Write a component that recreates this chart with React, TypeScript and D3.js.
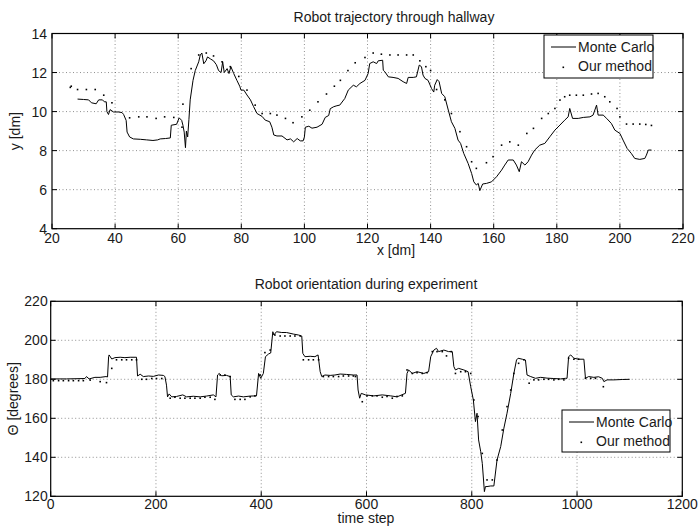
import React from "react";
import * as d3 from "d3";

// top panel: trajectory, [x dm, y dm]
const trajMonteCarlo: [number, number][] = [
  [28.1, 10.64], [30, 10.62], [31.6, 10.6], [32.5, 10.45], [34, 10.4], [34.8, 10.6], [36, 10.6], [36.6, 10.5],
  [37.2, 10.5], [37.4, 10.0], [37.9, 9.85], [38.4, 10.1], [39.5, 9.98], [41, 9.98], [42.2, 9.95], [42.7, 9.85],
  [43.5, 9.55], [43.8, 8.95], [44.6, 8.7], [45.8, 8.6], [48, 8.58], [50, 8.55], [52, 8.52], [53.5, 8.55],
  [54.3, 8.6], [56, 8.62], [57.5, 8.65], [57.8, 9.3], [59.5, 9.35], [60.3, 9.68], [61.1, 9.55], [61.5, 9.3],
  [61.9, 8.95], [62.3, 8.15], [62.6, 9.0], [63, 8.7], [63.4, 9.6], [63.8, 10.6], [64.7, 11.6], [65.4, 12.1],
  [66.5, 12.55], [67, 12.9], [67.5, 13.0], [68.1, 12.45], [68.8, 12.6], [69.3, 12.8], [70.2, 12.7], [71.2, 12.6],
  [72.1, 12.4], [72.8, 12.1], [73.6, 12.0], [74.1, 12.55], [74.6, 12.0], [75.5, 12.2], [76.1, 11.95], [76.7, 12.3],
  [77.6, 11.95], [78.6, 11.6], [79.5, 11.3], [79.9, 11.1], [80.8, 11.1], [81.8, 10.85], [82.9, 10.6], [83.9, 10.25],
  [85, 9.9], [86.6, 9.75], [87.6, 9.56], [89, 9.48], [89.7, 9.2], [90.3, 8.8], [91.3, 8.75], [92.9, 8.75],
  [94.5, 8.55], [95.6, 8.6], [96.6, 8.45], [97.7, 8.62], [98.7, 8.5], [99.6, 8.5], [100, 8.7], [100.3, 9.2],
  [101.4, 9.25], [102.4, 9.15], [104, 9.2], [105.6, 9.35], [106.6, 9.7], [107.7, 9.8], [108.2, 10.15], [109.3, 10.25],
  [110.3, 10.3], [111.2, 10.33], [112.8, 10.67], [113.9, 11.1], [115.5, 11.35], [116.5, 11.27], [117.6, 11.44], [119.2, 11.6],
  [120.2, 11.95], [120.7, 12.46], [121.8, 12.55], [122.9, 12.46], [123.4, 12.6], [124.8, 12.63], [125, 12.12], [125.5, 12.04],
  [126.6, 11.78], [128.1, 11.75], [129.7, 11.7], [131.3, 11.53], [132.4, 11.44], [132.9, 11.75], [134.5, 11.75], [135.5, 11.78],
  [136.4, 12.38], [137.1, 12.3], [137.6, 11.87], [138.2, 11.7], [139.2, 11.6], [140.3, 11.18], [141, 11.0], [141.3, 11.35],
  [142.1, 11.64], [142.7, 11.53], [143.5, 10.93], [144.5, 10.76], [145.6, 10.08], [146.6, 9.48], [147.7, 9.14], [148.7, 8.54],
  [149.5, 8.37], [150.5, 7.86], [151.9, 7.34], [153, 6.83], [153.7, 6.4], [154.5, 6.24], [155.1, 6.32], [155.6, 5.95],
  [156.5, 6.29], [157.7, 6.32], [159.3, 6.4], [160.9, 6.66], [162.5, 7.0], [163.5, 7.26], [164.6, 7.52], [166.2, 7.52],
  [167.2, 7.26], [168.1, 6.92], [168.8, 7.43], [169.9, 7.26], [170.9, 7.43], [172, 7.77], [173, 8.03], [174.6, 8.28],
  [176.2, 8.37], [177.8, 8.71], [179.4, 9.05], [181, 9.31], [182.5, 9.56], [183.6, 9.73], [184.1, 10.16], [185, 9.65],
  [186.8, 9.65], [188.4, 9.7], [190.5, 9.73], [191.5, 9.82], [192.6, 10.33], [193.1, 9.82], [194.7, 9.82], [195.8, 9.65],
  [197.3, 9.39], [198.4, 9.05], [200, 8.88], [201, 8.54], [202.3, 8.11], [203.6, 7.86], [204.7, 7.6], [206.3, 7.55],
  [207.9, 7.6], [208.4, 7.77], [209, 8.03], [210, 8.03],
];

const trajOurs: [number, number][] = [
  [25.8, 11.24], [26.1, 11.3], [28.1, 11.13], [30.9, 11.13], [33.7, 11.13], [36.4, 10.84], [39, 10.45], [44.6, 9.68],
  [47.5, 9.73], [50.1, 9.73], [53, 9.65], [55.7, 9.73], [58.6, 9.7], [61.2, 9.2], [61.5, 10.38], [64.1, 12.2],
  [66.5, 12.9], [68.9, 13.0], [71.2, 12.85], [73.9, 12.55], [76.5, 12.3], [79.2, 11.8], [81.8, 11.1], [84.4, 10.33],
  [86.6, 9.9], [89.2, 9.9], [91.3, 9.82], [94, 9.65], [96.4, 9.43], [99.2, 9.73], [101.7, 10.07], [104.3, 10.5],
  [107, 10.9], [109.5, 11.3], [111.4, 11.6], [113.8, 12.1], [116.1, 12.5], [119.2, 12.77], [121.8, 13.0], [124.4, 12.94],
  [127.1, 12.9], [129.7, 12.9], [132.4, 12.9], [134.5, 12.9], [136.6, 12.6], [138.5, 12.3], [140, 12.1], [141.9, 11.13],
  [144.5, 10.6], [146.6, 9.9], [149.3, 8.97], [151.4, 8.2], [153, 7.43], [154.5, 7.09], [157.7, 7.38], [159.8, 7.69],
  [162.5, 8.28], [165.1, 8.45], [167.8, 8.28], [170.5, 8.88], [172.6, 9.14], [175.2, 9.65], [177.3, 9.9], [179.4, 10.16],
  [181, 10.59], [182.5, 10.76], [184.1, 10.84], [186.2, 10.84], [188.4, 10.84], [191, 10.9], [193.1, 10.93], [195.2, 10.76],
  [196.8, 10.5], [199.1, 10.16], [200, 9.73], [202.1, 9.36], [204.2, 9.36], [206.3, 9.36], [208.2, 9.34], [210, 9.29],
];

// bottom panel: orientation, [time step, degrees]
const thetaMonteCarlo: [number, number][] = [
  [0, 180.2], [30, 180.2], [65, 180.4], [68, 181.4], [73, 180.2], [84, 181], [94, 181], [105, 181.4],
  [108, 181.2], [110, 191.6], [111, 192.5], [116, 190.4], [122, 191.1], [132, 191.3], [141, 191.1], [151, 191.3],
  [163, 191.3], [165, 181.7], [170, 182.6], [176, 181.4], [186, 181.7], [195, 181.5], [205, 182.2], [214, 182],
  [217, 181.4], [220, 177], [222, 171], [225, 172.5], [230, 171], [239, 171.2], [251, 172], [258, 171],
  [271, 171.3], [284, 171], [296, 171.4], [309, 172], [314, 171], [317, 182.2], [320, 183], [325, 181.8],
  [334, 182], [341, 181.4], [343, 172], [347, 171], [357, 171.4], [366, 171], [379, 171.4], [391, 171.5],
  [395, 183], [399, 180.5], [404, 183], [408, 191.6], [414, 193], [418, 193.5], [422, 204.4], [424, 202.7],
  [429, 204.4], [439, 204], [448, 204], [461, 203.2], [471, 202.7], [477, 202.2], [479, 193.3], [483, 191.6],
  [493, 191.8], [502, 191.6], [508, 192.5], [512, 183.9], [515, 181.4], [521, 182.2], [531, 182], [540, 182.2],
  [550, 182.7], [562, 182.5], [575, 182.2], [582, 182.2], [584, 174.5], [587, 170.3], [590, 172.8], [598, 172],
  [614, 171.5], [630, 172], [646, 171.5], [658, 171], [674, 172.8], [677, 183], [680, 184.8], [687, 183],
  [696, 183.9], [709, 183], [718, 183.9], [722, 191.6], [728, 195], [733, 195.9], [737, 194.2], [747, 195],
  [756, 194.2], [763, 194.2], [766, 186.5], [769, 184.8], [775, 185.6], [785, 184.8], [793, 183.9], [798, 176.2],
  [803, 169.4], [807, 158.3], [810, 162.6], [813, 148.9], [817, 142.9], [820, 136.9], [824, 122.4], [826, 125],
  [829, 125], [836, 125.3], [842, 125.3], [848, 138.6], [855, 145.5], [861, 154.9], [867, 162.6], [874, 172.8],
  [880, 183], [885, 189.9], [888, 190.8], [896, 190.3], [902, 189.9], [905, 182.2], [912, 181.4], [921, 180.5],
  [931, 181], [943, 180.6], [956, 180.4], [969, 180.2], [978, 180.5], [981, 180.5], [984, 191.6], [988, 192.5],
  [994, 190.8], [1003, 190.3], [1013, 190.3], [1016, 180.5], [1022, 181.4], [1032, 181], [1041, 181.3], [1048, 180.5],
  [1051, 178.8], [1057, 179.7], [1070, 179.7], [1086, 179.9], [1100, 180],
];

const thetaOurs: [number, number][] = [
  [5, 179.3], [15, 179.3], [24, 179.3], [34, 179.3], [43, 179.3], [53, 179.3], [62, 179.3], [75, 179.6],
  [94, 178.8], [106, 178.3], [116, 185.6], [125, 190], [135, 190], [144, 190], [154, 190], [163, 190],
  [173, 180], [182, 180], [192, 180.4], [201, 180.4], [211, 180.4], [227, 170.3], [236, 170.8], [246, 170.3],
  [255, 170.3], [265, 170.3], [274, 170.3], [284, 170.3], [293, 170.8], [303, 170.8], [312, 169.7], [322, 182.2],
  [331, 182.2], [341, 181.4], [350, 169.7], [360, 169.7], [369, 169.7], [379, 171], [388, 171.5], [398, 182.2],
  [407, 193.7], [417, 195], [426, 202.7], [436, 202.2], [445, 202.2], [455, 202.2], [464, 202.2], [474, 202.2],
  [480, 190], [490, 190], [499, 190], [509, 190], [518, 181.4], [528, 181.4], [537, 181.4], [547, 181.4],
  [556, 181.7], [566, 181.7], [575, 181.7], [579, 181.4], [592, 168.5], [601, 171.5], [611, 171.5], [620, 171.5],
  [630, 170.8], [639, 171.2], [649, 170.3], [658, 171.2], [668, 171.5], [677, 184.8], [687, 183], [696, 183.4],
  [706, 183], [715, 183.4], [725, 194.2], [734, 194.2], [744, 194.2], [752, 192], [761, 194.2], [769, 183],
  [779, 183.9], [788, 183.9], [798, 183], [804, 169.4], [812, 160.9], [820, 142], [829, 128.4], [839, 128.4],
  [848, 138.6], [858, 154], [867, 166], [874, 174.5], [880, 183], [889, 188.2], [899, 190], [909, 178],
  [918, 179.7], [927, 179.7], [937, 180], [946, 180], [956, 179.7], [965, 180], [975, 179.7], [984, 190.8],
  [994, 190.3], [1003, 190.3], [1016, 180.5], [1026, 180.5], [1035, 180.5], [1050, 176.2],
];

const trajXTicks = [20, 40, 60, 80, 100, 120, 140, 160, 180, 200, 220];
const trajYTicks = [4, 6, 8, 10, 12, 14];
const thetaXTicks = [0, 200, 400, 600, 800, 1000, 1200];
const thetaYTicks = [120, 140, 160, 180, 200, 220];
const legendNames = ["Monte Carlo", "Our method"];

const FONT = "'Liberation Sans', Arial, Helvetica, sans-serif";
const FS = 14;

type PanelProps = {
  box: { left: number; right: number; top: number; bottom: number };
  xDomain: [number, number];
  yDomain: [number, number];
  xTicks: number[];
  yTicks: number[];
  line: [number, number][];
  dots: [number, number][];
  title: string;
  titleX: number;
  titleY: number;
  xLabel: string;
  xLabelX: number;
  xLabelY: number;
  tickLabelY: number;
  yTickGap: number;
  yLabel: string;
  yLabelX: number;
  legend: { x: number; y: number; w: number; h: number };
};

function Panel(p: PanelProps) {
  const { box } = p;
  const x = d3.scaleLinear().domain(p.xDomain).range([box.left, box.right]);
  const y = d3.scaleLinear().domain(p.yDomain).range([box.bottom, box.top]);
  const path = d3.line<[number, number]>().x(d => x(d[0])).y(d => y(d[1]))(p.line) || "";
  const tl = 5;
  const lg = p.legend;

  return (
    <g fontFamily={FONT} fontSize={FS}>
      {/* grid */}
      {p.xTicks.slice(1, -1).map(t => (
        <line key={"gx" + t} x1={x(t)} x2={x(t)} y1={box.top} y2={box.bottom}
          stroke="#444" strokeWidth={0.6} strokeDasharray="1,2.5" />
      ))}
      {p.yTicks.slice(1, -1).map(t => (
        <line key={"gy" + t} x1={box.left} x2={box.right} y1={y(t)} y2={y(t)}
          stroke="#444" strokeWidth={0.6} strokeDasharray="1,2.5" />
      ))}
      {/* ticks, all four sides, pointing in */}
      {p.xTicks.map(t => (
        <g key={"tx" + t}>
          <line x1={x(t)} x2={x(t)} y1={box.bottom} y2={box.bottom - tl} stroke="#000" />
          <line x1={x(t)} x2={x(t)} y1={box.top} y2={box.top + tl} stroke="#000" />
          <text x={x(t)} y={p.tickLabelY} textAnchor="middle" fill="#1a1a1a">{t}</text>
        </g>
      ))}
      {p.yTicks.map(t => (
        <g key={"ty" + t}>
          <line x1={box.left} x2={box.left + tl} y1={y(t)} y2={y(t)} stroke="#000" />
          <line x1={box.right} x2={box.right - tl} y1={y(t)} y2={y(t)} stroke="#000" />
          <text x={box.left - p.yTickGap} y={y(t)} dy="0.36em" textAnchor="end" fill="#1a1a1a">{t}</text>
        </g>
      ))}
      {/* data */}
      <path d={path} fill="none" stroke="#000" strokeWidth={1} />
      {p.dots.map((d, i) => (
        <rect key={"d" + i} x={x(d[0]) - 0.8} y={y(d[1]) - 0.8} width={1.6} height={1.6} fill="#000" />
      ))}
      <rect x={box.left} y={box.top} width={box.right - box.left} height={box.bottom - box.top}
        fill="none" stroke="#000" strokeWidth={1.2} />
      {/* legend */}
      <rect x={lg.x} y={lg.y} width={lg.w} height={lg.h} fill="#fff" stroke="#000" strokeWidth={1} />
      <line x1={lg.x + 7} x2={lg.x + 32} y1={lg.y + 12} y2={lg.y + 12} stroke="#000" />
      <text x={lg.x + 34} y={lg.y + 12} dy="0.36em" fill="#1a1a1a">{legendNames[0]}</text>
      <rect x={lg.x + 18.5} y={lg.y + 31.5} width={1.6} height={1.6} fill="#000" />
      <text x={lg.x + 34} y={lg.y + 31} dy="0.36em" fill="#1a1a1a">{legendNames[1]}</text>
      {/* labels */}
      <text x={p.titleX} y={p.titleY} textAnchor="middle" fill="#1a1a1a">{p.title}</text>
      <text x={p.xLabelX} y={p.xLabelY} textAnchor="middle" fill="#1a1a1a">{p.xLabel}</text>
      <text transform={`translate(${p.yLabelX},${(box.top + box.bottom) / 2}) rotate(-90)`}
        textAnchor="middle" dy="0.36em" fill="#1a1a1a">{p.yLabel}</text>
    </g>
  );
}

export default function App() {
  return (
    <svg width={698} height={527} style={{ position: "absolute", left: 0, top: 0, background: "#fff" }}>
      <Panel
        box={{ left: 52, right: 683, top: 33.5, bottom: 228.7 }}
        xDomain={[20, 220]} yDomain={[4, 14]}
        xTicks={trajXTicks} yTicks={trajYTicks}
        line={trajMonteCarlo} dots={trajOurs}
        title="Robot trajectory through hallway" titleX={394} titleY={22}
        xLabel="x [dm]" xLabelX={396} xLabelY={255} tickLabelY={243} yTickGap={5}
        yLabel="y [dm]" yLabelX={15}
        legend={{ x: 544, y: 35, w: 109, h: 43 }}
      />
      <Panel
        box={{ left: 50.7, right: 682.3, top: 301.3, bottom: 496.3 }}
        xDomain={[0, 1200]} yDomain={[120, 220]}
        xTicks={thetaXTicks} yTicks={thetaYTicks}
        line={thetaMonteCarlo} dots={thetaOurs}
        title="Robot orientation during experiment" titleX={366} titleY={289}
        xLabel="time step" xLabelX={366} xLabelY={523} tickLabelY={509} yTickGap={3}
        yLabel="Θ [degrees]" yLabelX={13}
        legend={{ x: 562, y: 410, w: 108, h: 42 }}
      />
    </svg>
  );
}
